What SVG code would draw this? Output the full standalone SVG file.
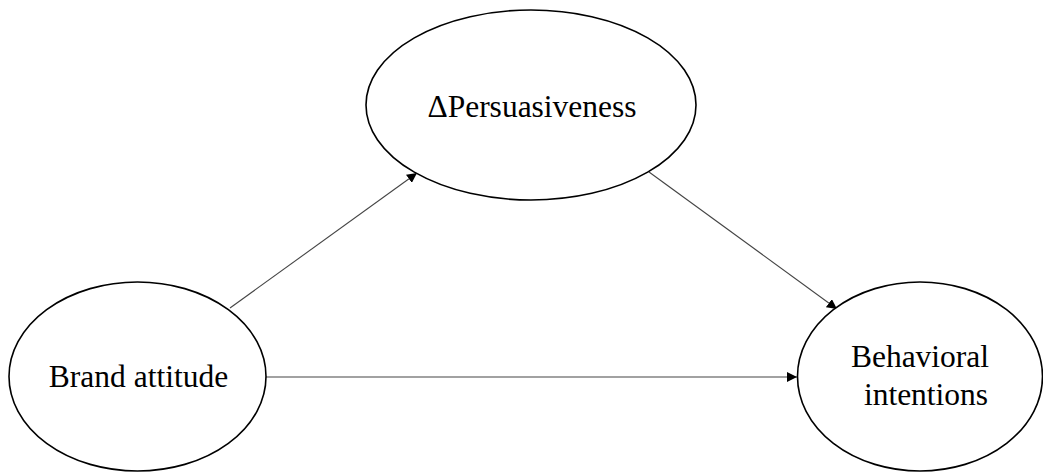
<svg xmlns="http://www.w3.org/2000/svg" width="1043" height="473" viewBox="0 0 1043 473">
<style>
.node{fill:#fff;stroke:#000;stroke-width:1.6}
.lbl{font-family:"Liberation Serif","Times New Roman",serif;font-size:31.5px;fill:#000;text-anchor:middle}
.edge{stroke:#444;stroke-width:1.1;fill:none;marker-end:url(#ah)}
</style>
<defs>
<marker id="ah" viewBox="0 0 10 10" refX="10" refY="5" markerWidth="10" markerHeight="10" markerUnits="userSpaceOnUse" orient="auto">
<path d="M0,0 L10,5 L0,10 Z" fill="#000"/>
</marker>
</defs>
<g id="connectors">
<line class="edge" x1="230" y1="308" x2="417" y2="173"/>
<line class="edge" x1="649" y1="172" x2="837" y2="309"/>
<line class="edge" x1="266" y1="377" x2="797" y2="377"/>
</g>
<g id="persuasiveness">
<ellipse class="node" cx="531" cy="105" rx="165" ry="95"/>
<text class="lbl" x="532" y="117">ΔPersuasiveness</text>
</g>
<g id="brand-attitude">
<ellipse class="node" cx="137.5" cy="376.5" rx="128.5" ry="94.5"/>
<text class="lbl" x="138.5" y="387">Brand attitude</text>
</g>
<g id="behavioral-intentions">
<ellipse class="node" cx="920" cy="376.5" rx="122.5" ry="94.5"/>
<text class="lbl" x="920" y="367">Behavioral</text>
<text class="lbl" x="926" y="405">intentions</text>
</g>
</svg>
